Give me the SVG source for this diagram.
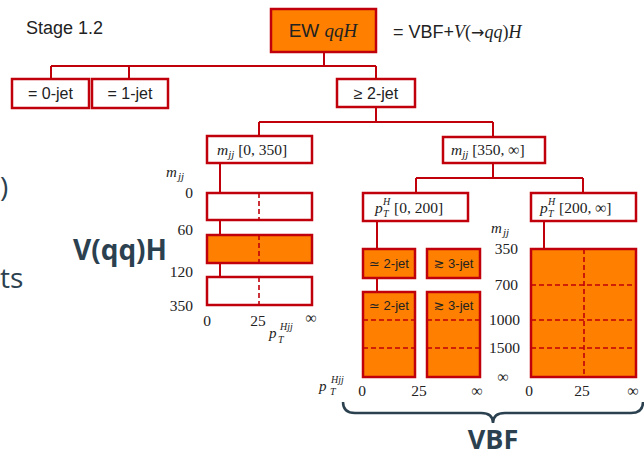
<svg xmlns="http://www.w3.org/2000/svg" width="644" height="457" viewBox="0 0 644 457">
  <style>
    .box { fill: #ffffff; stroke: #c0000a; stroke-width: 2.5; }
    .fill { fill: #ff8000; stroke: #c0000a; stroke-width: 2.5; }
    .wire { fill: none; stroke: #c0000a; stroke-width: 2; }
    .dash { fill: none; stroke: #c0000a; stroke-width: 1.6; stroke-dasharray: 5 3; }
    .sans { font-family: "Liberation Sans", Arial, sans-serif; fill: #222222; }
    .sym { font-family: "DejaVu Sans", sans-serif; }
    .rm { font-family: "Liberation Serif", "DejaVu Serif", serif; fill: #222222; }
    .mi { font-family: "Liberation Serif", "DejaVu Serif", serif; font-style: italic; fill: #222222; }
    .num { font-family: "Liberation Serif", "DejaVu Serif", serif; fill: #222222; font-size: 15.5px; }
    .slide { font-family: "Open Sans", "Noto Sans", sans-serif; fill: #2c4150; }
  </style>

  <!-- slide text around the figure -->
  <text class="slide" x="0" y="197" font-size="28">)</text>
  <text class="slide" x="0" y="288" font-size="28">ts</text>
  <text class="slide" x="73" y="260" font-size="28" font-weight="bold">V(qq)H</text>

  <text class="sans" x="26" y="34" font-size="18">Stage 1.2</text>

  <!-- connectors -->
  <g id="connectors">
    <path class="wire" d="M324 52 V66 M51 66 H376 M51 66 V79 M129 66 V79 M376 66 V79"/>
    <path class="wire" d="M376 107 V122 M259 122 H493 M259 122 V136 M493 122 V137"/>
    <path class="wire" d="M493 163 V178 M416 178 H583 M416 178 V193 M583 178 V193"/>
    <path class="wire" d="M220 163 V193 M220 220 V235 M220 263 V277"/>
    <path class="wire" d="M377 221 V249 M377 278 V292 M544 221 V249"/>
  </g>

  <!-- top node -->
  <g id="ewqqh">
    <rect class="fill" x="271" y="9" width="105" height="43"/>
    <text class="sans" x="323" y="37" font-size="19" text-anchor="middle">EW <tspan class="mi">qqH</tspan></text>
  </g>
  <text x="393" y="38" font-size="18"><tspan class="sans">= VBF+</tspan><tspan class="mi">V</tspan><tspan class="rm">(</tspan><tspan class="sym" fill="#222222" font-size="16">→</tspan><tspan class="mi">qq</tspan><tspan class="rm">)</tspan><tspan class="mi">H</tspan></text>

  <!-- jet multiplicity -->
  <g id="jet0">
    <rect class="box" x="12" y="79" width="77" height="29"/>
    <text class="sans" x="50.5" y="99" font-size="16" text-anchor="middle">=  0-jet</text>
  </g>
  <g id="jet1">
    <rect class="box" x="92" y="79" width="76" height="29"/>
    <text class="sans" x="130" y="99" font-size="16" text-anchor="middle">=  1-jet</text>
  </g>
  <g id="jet2">
    <rect class="box" x="337" y="79" width="78" height="28"/>
    <text class="sans" x="376" y="99" font-size="16" text-anchor="middle">≥ 2-jet</text>
  </g>

  <!-- mjj splits -->
  <g id="mjj-low">
    <rect class="box" x="207" y="136" width="105" height="27"/>
    <text x="217" y="155" font-size="15.5"><tspan class="mi">m</tspan><tspan class="mi" font-size="11" dy="3">jj</tspan><tspan class="rm" dy="-3"> [0, 350]</tspan></text>
  </g>
  <g id="mjj-high">
    <rect class="box" x="443" y="137" width="102" height="26"/>
    <text x="451" y="155" font-size="15.5"><tspan class="mi">m</tspan><tspan class="mi" font-size="11" dy="3">jj</tspan><tspan class="rm" dy="-3"> [350, ∞]</tspan></text>
  </g>

  <!-- V(qq)H bins -->
  <g id="vh-bin1">
    <rect class="box" x="207" y="193" width="105" height="27"/>
    <line class="dash" x1="259" y1="193" x2="259" y2="220"/>
  </g>
  <g id="vh-bin2">
    <rect class="fill" x="207" y="235" width="105" height="28"/>
    <line class="dash" x1="259" y1="235" x2="259" y2="263"/>
  </g>
  <g id="vh-bin3">
    <rect class="box" x="207" y="277" width="105" height="28"/>
    <line class="dash" x1="259" y1="277" x2="259" y2="305"/>
  </g>
  <g id="vh-axes">
    <text class="mi" x="166" y="177" font-size="15">m</text>
    <text class="mi" x="178" y="180" font-size="11">jj</text>
    <text class="num" x="193" y="198" text-anchor="end">0</text>
    <text class="num" x="193" y="235" text-anchor="end">60</text>
    <text class="num" x="193" y="277" text-anchor="end">120</text>
    <text class="num" x="193" y="311" text-anchor="end">350</text>
    <text class="num" x="207" y="326" text-anchor="middle">0</text>
    <text class="num" x="258" y="326" text-anchor="middle">25</text>
    <text class="num" x="311" y="323" text-anchor="middle" font-size="19">∞</text>
    <text class="mi" x="269" y="338" font-size="15">p</text>
    <text class="mi" x="280" y="330" font-size="10">Hjj</text>
    <text class="mi" x="278" y="343" font-size="10">T</text>
  </g>

  <!-- pT^H splits -->
  <g id="pth-low">
    <rect class="box" x="363" y="193" width="105" height="28"/>
    <text class="mi" x="375" y="213" font-size="15.5">p</text>
    <text class="mi" x="383" y="205" font-size="10">H</text>
    <text class="mi" x="383" y="217" font-size="10">T</text>
    <text class="rm" x="394" y="213" font-size="15.5">[0, 200]</text>
  </g>
  <g id="pth-high">
    <rect class="box" x="531" y="193" width="105" height="28"/>
    <text class="mi" x="540" y="213" font-size="15.5">p</text>
    <text class="mi" x="548" y="205" font-size="10">H</text>
    <text class="mi" x="548" y="217" font-size="10">T</text>
    <text class="rm" x="559" y="213" font-size="15.5">[200, ∞]</text>
  </g>

  <!-- VBF low pT^H bins -->
  <g id="vbf-2jet-low">
    <rect class="fill" x="363" y="249" width="52" height="29"/>
    <text class="sans" x="389" y="268" font-size="13" text-anchor="middle"><tspan class="sym">≃</tspan> 2-jet</text>
  </g>
  <g id="vbf-3jet-low">
    <rect class="fill" x="427" y="249" width="53" height="29"/>
    <text class="sans" x="453.5" y="268" font-size="13" text-anchor="middle"><tspan class="sym">≳</tspan> 3-jet</text>
  </g>
  <g id="vbf-2jet-high">
    <rect class="fill" x="363" y="292" width="52" height="85"/>
    <text class="sans" x="389" y="310" font-size="13" text-anchor="middle"><tspan class="sym">≃</tspan> 2-jet</text>
    <path class="dash" d="M363 320 H415 M363 348 H415"/>
  </g>
  <g id="vbf-3jet-high">
    <rect class="fill" x="427" y="292" width="53" height="85"/>
    <text class="sans" x="453.5" y="310" font-size="13" text-anchor="middle"><tspan class="sym">≳</tspan> 3-jet</text>
    <path class="dash" d="M427 320 H480 M427 348 H480"/>
  </g>

  <!-- VBF high pT^H bins -->
  <g id="vbf-boosted">
    <rect class="fill" x="531" y="249" width="105" height="128"/>
    <path class="dash" d="M531 285 H636 M531 320 H636 M531 348 H636 M584 249 V377"/>
  </g>

  <g id="vbf-axes">
    <text class="mi" x="491" y="233" font-size="15">m</text>
    <text class="mi" x="503" y="236" font-size="11">jj</text>
    <text class="num" x="518" y="254" text-anchor="end">350</text>
    <text class="num" x="518" y="290" text-anchor="end">700</text>
    <text class="num" x="520" y="325" text-anchor="end">1000</text>
    <text class="num" x="520" y="353" text-anchor="end">1500</text>
    <text class="num" x="503" y="382" text-anchor="middle" font-size="19">∞</text>
    <text class="num" x="362" y="396" text-anchor="middle">0</text>
    <text class="num" x="419" y="396" text-anchor="middle">25</text>
    <text class="num" x="477" y="396" text-anchor="middle" font-size="19">∞</text>
    <text class="num" x="529" y="396" text-anchor="middle">0</text>
    <text class="num" x="582" y="396" text-anchor="middle">25</text>
    <text class="num" x="633" y="396" text-anchor="middle" font-size="19">∞</text>
    <text class="mi" x="319" y="391" font-size="15">p</text>
    <text class="mi" x="331" y="383" font-size="10">Hjj</text>
    <text class="mi" x="330" y="395" font-size="10">T</text>
  </g>

  <!-- VBF brace -->
  <path d="M343 402 Q343 413 355 413 H481 Q493 413 493 423 Q493 413 505 413 H631 Q643 413 643 402" fill="none" stroke="#2c4150" stroke-width="2.5"/>
  <text class="slide" x="493" y="449" font-size="27" font-weight="bold" text-anchor="middle">VBF</text>
</svg>
